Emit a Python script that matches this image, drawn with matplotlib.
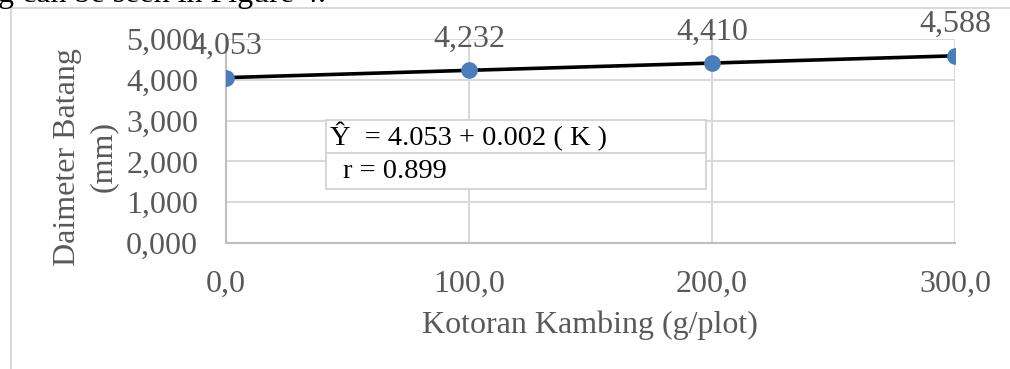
import matplotlib.pyplot as plt
from matplotlib.lines import Line2D
from matplotlib.patches import Rectangle

# dosis kotoran kambing (g/plot) dan diameter batang (mm)
dosis = [0.0, 100.0, 200.0, 300.0]
diameter = [4.053, 4.232, 4.410, 4.588]
label_nilai = ['4,053', '4,232', '4,410', '4,588']
y_ticks = [0, 1, 2, 3, 4, 5]
y_ticklabels = ['0,000', '1,000', '2,000', '3,000', '4,000', '5,000']
x_ticks = [0, 100, 200, 300]
x_ticklabels = ['0,0', '100,0', '200,0', '300,0']

plt.rcParams['font.family'] = ['Liberation Serif', 'DejaVu Serif']
abu = '#595959'
grid_c = '#d9d9d9'
fs = 23

fig = plt.figure(figsize=(10.1, 3.69), dpi=100)
ax = fig.add_axes([226 / 1010, 1 - 243 / 369, (955 - 226) / 1010, (243 - 39) / 369])

ax.plot(dosis, diameter, color='black', lw=2.6, zorder=3)
ax.plot(dosis, diameter, 'o', color='#4a7ebb', ms=11, zorder=4)
for x, y, t in zip(dosis, diameter, label_nilai):
    ax.annotate(t, (x, y), xytext=(0, 12), textcoords='offset points',
                ha='center', va='bottom', fontsize=fs, color=abu, zorder=5,
                annotation_clip=False)

ax.set_xlim(0, 300)
ax.set_ylim(0, 5)
ax.set_xticks(x_ticks)
ax.set_xticklabels(x_ticklabels)
ax.set_yticks(y_ticks)
ax.set_yticklabels(y_ticklabels)
ax.tick_params(length=0, labelsize=fs, labelcolor=abu)
ax.tick_params(axis='x', pad=19)
ax.tick_params(axis='y', pad=20)
ax.grid(True, color=grid_c, lw=1.5)
ax.set_axisbelow(True)
for s in ['top', 'right']:
    ax.spines[s].set_visible(False)
for s in ['left', 'bottom']:
    ax.spines[s].set_color('#bfbfbf')
    ax.spines[s].set_linewidth(1.5)

fig.text(590 / 1010, 1 - 325 / 369, 'Kotoran Kambing (g/plot)', ha='center', va='center',
         fontsize=fs, color=abu)
fig.text(67 / 1010, 1 - 157 / 369, 'Daimeter Batang', rotation=90, ha='center', va='center',
         fontsize=fs, color=abu)
fig.text(103 / 1010, 1 - 157 / 369, '(mm)', rotation=90, ha='center', va='center',
         fontsize=fs, color=abu)

# kotak persamaan regresi
x0, x1 = 326 / 1010, 706 / 1010
y_top, y_mid, y_bot = 1 - 120 / 369, 1 - 153 / 369, 1 - 189 / 369
fig.patches.append(Rectangle((x0, y_bot), x1 - x0, y_top - y_bot, transform=fig.transFigure,
                             facecolor='white', edgecolor='#d0d0d0', lw=1.2, zorder=6))
fig.lines.append(Line2D([x0, x1], [y_mid, y_mid], transform=fig.transFigure,
                        color='#d0d0d0', lw=1.2, zorder=7))
fig.text(330 / 1010, (y_top + y_mid) / 2, '\u0176  = 4.053 + 0.002 ( K )', ha='left', va='center',
         fontsize=20.5, color='black', zorder=8)
fig.text(343 / 1010, (y_mid + y_bot) / 2, 'r = 0.899', ha='left', va='center',
         fontsize=20.5, color='black', zorder=8)

# bingkai luar dan potongan teks di atasnya
fig.lines.append(Line2D([11 / 1010, 11 / 1010], [0, 1 - 8 / 369], transform=fig.transFigure,
                        color=grid_c, lw=1.5))
fig.lines.append(Line2D([11 / 1010, 1], [1 - 8 / 369, 1 - 8 / 369], transform=fig.transFigure,
                        color=grid_c, lw=1.5))
fig.text(-0.002, 1 - 2 / 369, 'g can be seen in Figure 4.', ha='left', va='baseline',
         fontsize=fs, color='black')

fig.savefig('out.png', dpi=100)
